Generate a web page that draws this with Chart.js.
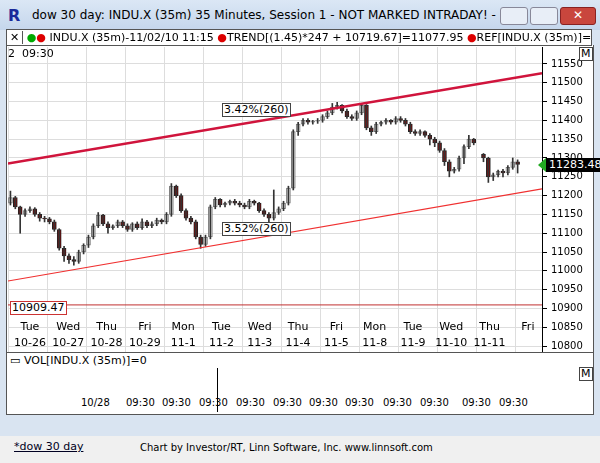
<!DOCTYPE html>
<html><head><meta charset="utf-8">
<script src="https://cdn.jsdelivr.net/npm/chart.js@4"></script>
<style>
body{margin:0;width:600px;height:463px;overflow:hidden;background:#d9e4f1;font-family:"DejaVu Sans",sans-serif;position:relative}
.abs{position:absolute}
#title{left:0;top:0;width:600px;height:30px;background:linear-gradient(#dbe7f5,#c5d6ec);font-size:12px}
#bar{left:6px;top:29px;width:584px;height:15px;background:#fff;border:1px solid #555;font-size:11px;line-height:15px;white-space:nowrap;overflow:hidden;z-index:2}
#main{left:6px;top:45px;width:586px;height:307px;background:#fff;border-left:1px solid #555;border-right:1px solid #555}
.dl{font-size:11px;color:#000;text-align:center;width:40px}
.box{font-size:11px;background:#fff;border:1px solid #444;padding:0 1px;line-height:12px}
#vol{left:6px;top:352px;width:586px;height:61px;background:#fff;border:1px solid #555;z-index:2}
.tl{font-size:10px;top:397px;z-index:3}
#foot{left:0;top:436px;width:600px;height:27px;background:#f0f0f0;font-size:11px}
</style></head><body>
<div id="title" class="abs"><div class="abs" style="left:8px;top:6px;font-weight:bold;color:#1a2a9a;font-size:16px">R</div><div class="abs" style="left:32px;top:8px">dow 30 day: INDU.X (35m) 35 Minutes, Session 1 - NOT MARKED INTRADAY! - IN...</div>
<div class="abs" style="left:500px;top:7px;width:26px;height:16px;border:1px solid #889;border-radius:3px;background:#e8eef7"></div>
<div class="abs" style="left:530px;top:7px;width:26px;height:16px;border:1px solid #889;border-radius:3px;background:#e8eef7"></div>
<div class="abs" style="left:560px;top:7px;width:34px;height:16px;border:1px solid #822;border-radius:3px;background:#c9463d;color:#fff;text-align:center;font-weight:bold;font-size:12px">✕</div></div>
<div id="bar" class="abs"><span style="border-right:1px solid #555;padding:0 3px">✕</span> <span style="color:#0a0">●</span><span style="color:#d00">●</span> INDU.X (35m)-11/02/10 11:15 <span style="color:#d00">●</span>TREND[(1.45)*247 + 10719.67]=11077.95 <span style="color:#d00">●</span>REF[INDU.X (35m)]=1090</div>
<div id="main" class="abs"></div>
<canvas id="c" class="abs" style="left:0;top:37px" width="600" height="327"></canvas>
<div class="abs" style="left:8px;top:47px;font-size:11px">2 &nbsp;09:30</div>
<div class="abs box" style="left:579px;top:47px;padding:0 1px">M</div>
<div class="abs box" style="left:222px;top:103px">3.42%(260)</div>
<div class="abs box" style="left:222px;top:222px">3.52%(260)</div>
<div class="abs box" style="left:10px;top:301px;border-color:#c33">10909.47</div>
<div class="abs" style="left:538px;top:158px;width:0;height:0;border-top:7px solid transparent;border-bottom:7px solid transparent;border-right:8px solid #2a2"></div>
<div class="abs" style="left:546px;top:158px;background:#000;color:#fff;font-size:11px;padding:0 3px;line-height:14px">11283.48</div>
<div id="days"></div>
<div id="vol" class="abs"><div class="abs" style="left:3px;top:1px;font-size:11px">▭ VOL[INDU.X (35m)]=0</div>
<div class="abs" style="left:210px;top:15px;width:1px;height:44px;background:#000"></div>
<div class="abs box" style="left:572px;top:14px">M</div></div>
<div id="times"></div>
<div id="foot" class="abs"><div class="abs" style="left:14px;top:4px;text-decoration:underline;color:#002">*dow 30 day</div><div class="abs" style="left:140px;top:6px;font-size:10px">Chart by Investor/RT, Linn Software, Inc. www.linnsoft.com</div></div>
<script>
const dayNames=["Tue","Wed","Thu","Fri","Mon","Tue","Wed","Thu","Fri","Mon","Tue","Wed","Thu","Fri"];
const dayDates=["10-26","10-27","10-28","10-29","11-1","11-2","11-3","11-4","11-5","11-8","11-9","11-10","11-11",""];
const timeLabels=["10/28","09:30","09:30","09:30","09:30","09:30","09:30","09:30","09:30","09:30","09:30","09:30"];
const opens=[11180,11195,11170,11150,11160,11165,11150,11140, 11138,11130,11110,11060,11040,11030,11025,11050, 11068,11090,11120,11148,11125,11115,11120,11130, 11120,11110,11125,11115,11130,11120,11125,11135, 11130,11150,11225,11200,11160,11140,11130,11090, 11070,11090,11170,11190,11175,11180,11185,11180, 11175,11170,11185,11180,11160,11150,11140,11155, 11165,11180,11220,11370,11390,11400,11395,11398, 11400,11410,11420,11435,11440,11425,11410,11405, 11420,11440,11380,11370,11390,11395,11400,11395, 11405,11400,11390,11370,11365,11370,11360,11350, 11340,11320,11290,11265,11270,11300,11330,11350, 11310,11300,11250,11255,11265,11260,11275,11290];
const closes=[11195,11170,11150,11160,11165,11150,11140,11138, 11130,11110,11060,11040,11030,11025,11050,11068, 11090,11120,11148,11125,11115,11120,11130,11120, 11110,11125,11115,11130,11120,11125,11135,11130, 11150,11225,11200,11160,11140,11130,11090,11070, 11090,11170,11190,11175,11180,11185,11180,11175, 11170,11185,11180,11160,11150,11140,11155,11165, 11180,11220,11370,11390,11400,11395,11398,11400, 11410,11420,11435,11440,11425,11410,11405,11420, 11440,11380,11370,11390,11395,11400,11395,11405, 11400,11390,11370,11365,11370,11360,11350,11340, 11320,11290,11265,11270,11300,11330,11350,11340, 11300,11250,11255,11265,11260,11275,11290,11283];
const highs=[11212,11198,11172,11165,11170,11168,11155,11145, 11142,11135,11112,11065,11045,11038,11055,11072, 11095,11125,11155,11150,11130,11122,11135,11134, 11125,11128,11130,11138,11134,11130,11140,11138, 11155,11232,11228,11205,11165,11145,11135,11095, 11095,11175,11195,11192,11183,11188,11190,11185, 11180,11190,11188,11182,11165,11155,11215,11170, 11185,11225,11375,11395,11405,11405,11400,11405, 11415,11425,11445,11448,11442,11430,11415,11425, 11445,11442,11385,11395,11398,11405,11402,11410, 11410,11405,11395,11375,11375,11372,11365,11355, 11345,11325,11295,11275,11305,11335,11360,11352, 11312,11302,11260,11268,11270,11280,11300,11295];
const lows=[11175,11165,11100,11145,11155,11145,11132,11130, 11125,11105,11055,11025,11020,11015,11020,11045, 11062,11085,11115,11120,11100,11110,11115,11115, 11105,11105,11110,11110,11115,11115,11120,11125, 11125,11145,11195,11155,11135,11125,11085,11060, 11065,11085,11165,11170,11170,11175,11175,11170, 11165,11165,11175,11155,11145,11130,11135,11150, 11160,11175,11215,11360,11385,11390,11390,11392, 11395,11405,11415,11430,11420,11405,11400,11400, 11415,11375,11360,11365,11385,11390,11390,11390, 11395,11385,11365,11360,11360,11355,11335,11330, 11315,11280,11250,11260,11265,11285,11325,11335, 11290,11235,11240,11250,11250,11255,11270,11260];
const upperTrend=[11285,11525];
const lowerTrend=[10973,11218];
const refLevel=10909.47;
const barsPerDay=8, xMin=-0.5, xMax=109;

const idx=closes.map((_,i)=>i+(i>=96?1:0));
const wick=idx.map((x,i)=>({x,y:[lows[i],highs[i]]}));
const body=idx.map((x,i)=>({x,y:[Math.min(opens[i],closes[i]),Math.max(opens[i],closes[i])]}));
const up=closes.map((c,i)=>c>=opens[i]);
new Chart(document.getElementById('c'),{
 data:{datasets:[
  {type:'line',data:[{x:xMin,y:upperTrend[0]},{x:xMax,y:upperTrend[1]}],borderColor:'#d0143c',borderWidth:2.5,pointRadius:0},
  {type:'line',data:[{x:xMin,y:lowerTrend[0]},{x:xMax,y:lowerTrend[1]}],borderColor:'#f03030',borderWidth:1.2,pointRadius:0},
  {type:'line',data:[{x:xMin,y:refLevel},{x:xMax,y:refLevel}],borderColor:'#c03030',borderWidth:1,pointRadius:0},
  {type:'bar',data:wick,backgroundColor:'#333',barThickness:1,grouped:false},
  {type:'bar',data:body,backgroundColor:up.map(u=>u?'#e8e8e8':'#8b0a0a'),borderColor:up.map(u=>u?'#777':'#222'),borderWidth:1,borderSkipped:false,barThickness:4,grouped:false}
 ]},
 options:{animation:false,responsive:false,plugins:{legend:{display:false},tooltip:{enabled:false}},
  layout:{padding:{left:8,top:0,bottom:0,right:0}},
  scales:{
   x:{type:'linear',offset:false,min:xMin,max:xMax,display:true,ticks:{display:false},border:{display:false},grid:{offset:false,color:'#ddd',drawTicks:false},afterBuildTicks:a=>{a.ticks=[];for(let v=-0.5;v<=xMax;v+=barsPerDay)a.ticks.push({value:v});}},
   y:{position:'right',min:10779,max:11595,afterBuildTicks:a=>{a.ticks=[];for(let v=10800;v<=11550;v+=50)a.ticks.push({value:v});},
      ticks:{color:'#000',font:{size:10,family:'DejaVu Sans'},padding:4,callback:v=>String(v)},grid:{color:'#ddd',tickColor:'#000',tickLength:5},
      border:{color:'#000'},afterFit:a=>{a.width=58;}}
  }}
});
let h='';
for(let d=0;d<dayNames.length;d++){const x=8+d*38.3+22;h+=`<div class="abs dl" style="left:${x-20}px;top:320px">${dayNames[d]}</div><div class="abs dl" style="left:${x-20}px;top:336px">${dayDates[d]}</div>`;}
document.getElementById('days').innerHTML=h;
const tx=[95,140,176,213,250,287,323,359,397,434,476,513];let t='';
timeLabels.forEach((l,i)=>t+=`<div class="abs tl" style="left:${tx[i]-14}px">${l}</div>`);
document.getElementById('times').innerHTML=t;
</script></body></html>
